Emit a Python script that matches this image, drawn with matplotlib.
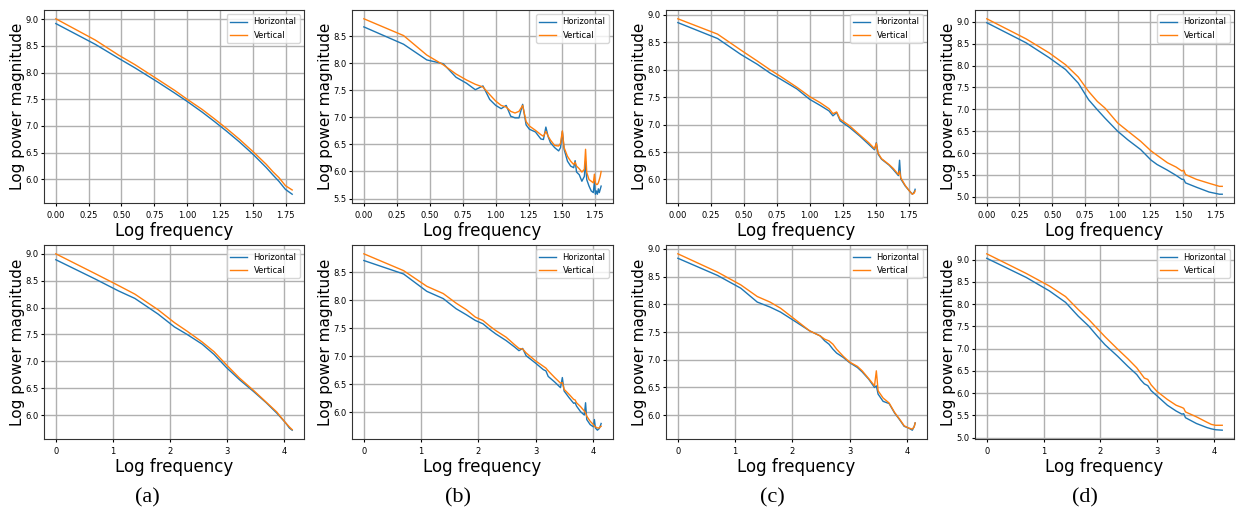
import numpy as np
import matplotlib
matplotlib.use("Agg")
import matplotlib.pyplot as plt

# frequency index (k) sampled per panel, and the log power magnitude read off the figure
# top row uses log10(k), bottom row uses ln(k)

top_a_freq = [1, 2, 3, 4, 6, 8, 10, 13, 16, 20, 25, 32, 40, 45, 50, 56, 63]
top_a_h = [8.92, 8.53, 8.27, 8.09, 7.82, 7.62, 7.46, 7.26, 7.09, 6.90, 6.70, 6.46, 6.22, 6.08, 5.96, 5.81, 5.72]
top_a_v = [9.01, 8.61, 8.33, 8.15, 7.87, 7.67, 7.50, 7.31, 7.14, 6.95, 6.75, 6.51, 6.28, 6.14, 6.03, 5.88, 5.80]

top_b_freq = [1, 2, 3, 4, 5, 6, 7, 8, 9, 10, 11, 12, 13, 14, 15, 16, 17, 18, 20, 22, 23, 24, 25, 26, 28,
              30, 31, 32, 33, 35, 37, 39, 40, 41, 43, 45, 47, 48, 49, 51, 53, 55, 56, 57, 58, 59, 60, 61, 62, 63]
top_b_h = [8.67, 8.35, 8.06, 7.99, 7.74, 7.63, 7.51, 7.58, 7.33, 7.22, 7.16, 7.22, 7.02, 6.99, 6.99, 7.24, 6.86,
           6.78, 6.73, 6.60, 6.59, 6.82, 6.64, 6.53, 6.44, 6.38, 6.44, 6.74, 6.41, 6.19, 6.10, 6.07, 6.20, 5.99,
           5.94, 5.82, 5.91, 6.19, 5.85, 5.73, 5.64, 5.61, 5.82, 5.58, 5.64, 5.58, 5.68, 5.61, 5.67, 5.73]
top_b_v = [8.82, 8.51, 8.15, 7.97, 7.80, 7.69, 7.61, 7.56, 7.42, 7.30, 7.22, 7.19, 7.11, 7.08, 7.11, 7.22, 6.92,
           6.84, 6.76, 6.68, 6.65, 6.74, 6.65, 6.58, 6.48, 6.47, 6.52, 6.75, 6.44, 6.28, 6.19, 6.13, 6.17, 6.10,
           6.05, 5.99, 6.04, 6.41, 5.98, 5.85, 5.82, 5.79, 5.95, 5.79, 5.76, 5.76, 5.79, 5.85, 5.91, 6.00]

top_c_freq = [1, 2, 3, 4, 5, 6, 8, 10, 12, 14, 15, 16, 17, 20, 24, 28, 31, 32, 33, 35, 40, 43, 47, 48, 49,
              53, 57, 60, 62, 63]
top_c_h = [8.86, 8.57, 8.28, 8.10, 7.94, 7.83, 7.65, 7.46, 7.35, 7.25, 7.16, 7.22, 7.07, 6.95, 6.79, 6.64,
           6.54, 6.67, 6.46, 6.37, 6.26, 6.18, 6.07, 6.35, 6.01, 5.88, 5.79, 5.73, 5.77, 5.82]
top_c_v = [8.93, 8.65, 8.36, 8.16, 8.00, 7.88, 7.68, 7.51, 7.40, 7.29, 7.20, 7.23, 7.10, 6.98, 6.81, 6.67,
           6.56, 6.66, 6.48, 6.38, 6.27, 6.20, 6.09, 6.15, 6.03, 5.89, 5.79, 5.73, 5.75, 5.79]

top_d_freq = [1, 2, 3, 4, 5, 6, 7, 8, 10, 12, 15, 18, 20, 24, 28, 31, 32, 33, 40, 50, 60, 63]
top_d_h = [8.98, 8.52, 8.18, 7.91, 7.60, 7.22, 6.99, 6.80, 6.50, 6.30, 6.08, 5.84, 5.74, 5.61, 5.49, 5.40,
           5.40, 5.32, 5.22, 5.11, 5.06, 5.06]
top_d_v = [9.07, 8.61, 8.29, 8.02, 7.74, 7.41, 7.18, 7.03, 6.69, 6.50, 6.27, 6.05, 5.95, 5.78, 5.68, 5.59,
           5.61, 5.51, 5.40, 5.31, 5.24, 5.24]

bot_a_freq = [1, 2, 3, 4, 6, 8, 10, 13, 16, 20, 25, 32, 40, 48, 56, 60, 63]
bot_a_h = [8.89, 8.53, 8.31, 8.17, 7.88, 7.64, 7.50, 7.32, 7.13, 6.88, 6.66, 6.44, 6.23, 6.04, 5.86, 5.76, 5.72]
bot_a_v = [9.00, 8.63, 8.41, 8.25, 7.96, 7.72, 7.56, 7.36, 7.18, 6.93, 6.69, 6.46, 6.24, 6.06, 5.86, 5.78, 5.73]

bot_b_freq = [1, 2, 3, 4, 5, 6, 7, 8, 9, 10, 12, 14, 15, 16, 17, 20, 23, 24, 25, 28, 31, 32, 33, 36, 39,
              40, 41, 44, 47, 48, 49, 52, 55, 56, 57, 59, 61, 62, 63]
bot_b_h = [8.71, 8.47, 8.16, 8.03, 7.85, 7.74, 7.64, 7.58, 7.48, 7.40, 7.28, 7.16, 7.10, 7.14, 7.01, 6.88,
           6.76, 6.74, 6.64, 6.54, 6.44, 6.62, 6.38, 6.26, 6.16, 6.17, 6.11, 6.01, 5.95, 6.17, 5.87, 5.78,
           5.74, 5.87, 5.72, 5.68, 5.71, 5.75, 5.80]
bot_b_v = [8.83, 8.53, 8.25, 8.12, 7.95, 7.83, 7.70, 7.64, 7.54, 7.46, 7.34, 7.20, 7.14, 7.13, 7.06, 6.92,
           6.82, 6.79, 6.74, 6.62, 6.52, 6.53, 6.41, 6.32, 6.23, 6.22, 6.17, 6.10, 6.02, 5.99, 5.93, 5.84,
           5.78, 5.75, 5.74, 5.72, 5.72, 5.74, 5.75]

bot_c_freq = [1, 2, 3, 4, 5, 6, 8, 10, 12, 13, 14, 15, 16, 18, 20, 23, 25, 28, 31, 32, 33, 36, 40, 44, 48,
              52, 56, 60, 62, 63]
bot_c_h = [8.83, 8.52, 8.29, 8.04, 7.95, 7.86, 7.67, 7.52, 7.43, 7.34, 7.28, 7.19, 7.12, 7.04, 6.95, 6.86,
           6.78, 6.65, 6.50, 6.53, 6.38, 6.25, 6.21, 6.04, 5.92, 5.80, 5.77, 5.73, 5.80, 5.86]
bot_c_v = [8.91, 8.58, 8.35, 8.14, 8.04, 7.93, 7.70, 7.52, 7.43, 7.37, 7.34, 7.28, 7.19, 7.06, 6.96, 6.88,
           6.80, 6.66, 6.53, 6.80, 6.44, 6.31, 6.22, 6.05, 5.93, 5.81, 5.77, 5.75, 5.79, 5.86]

bot_d_freq = [1, 2, 3, 4, 5, 6, 7, 8, 10, 12, 14, 15, 16, 17, 18, 20, 24, 28, 31, 32, 33, 40, 48, 52, 56, 63]
bot_d_h = [9.03, 8.60, 8.30, 8.04, 7.73, 7.51, 7.28, 7.09, 6.83, 6.60, 6.42, 6.30, 6.21, 6.17, 6.06, 5.94,
           5.73, 5.60, 5.53, 5.54, 5.45, 5.32, 5.23, 5.20, 5.18, 5.17]
bot_d_v = [9.13, 8.69, 8.41, 8.17, 7.88, 7.66, 7.45, 7.27, 6.99, 6.77, 6.57, 6.45, 6.34, 6.31, 6.19, 6.04,
           5.86, 5.73, 5.68, 5.66, 5.58, 5.47, 5.35, 5.30, 5.28, 5.28]

captions = ["(a)", "(b)", "(c)", "(d)"]

top_panels = [(top_a_freq, top_a_h, top_a_v), (top_b_freq, top_b_h, top_b_v),
              (top_c_freq, top_c_h, top_c_v), (top_d_freq, top_d_h, top_d_v)]
bot_panels = [(bot_a_freq, bot_a_h, bot_a_v), (bot_b_freq, bot_b_h, bot_b_v),
              (bot_c_freq, bot_c_h, bot_c_v), (bot_d_freq, bot_d_h, bot_d_v)]

W, H = 1236, 512
plt.rcParams["xtick.labelsize"] = 6
plt.rcParams["ytick.labelsize"] = 6
plt.rcParams["xtick.major.size"] = 2.5
plt.rcParams["ytick.major.size"] = 2.5
plt.rcParams["xtick.major.pad"] = 3
plt.rcParams["ytick.major.pad"] = 1.5

fig = plt.figure(figsize=(W / 100, H / 100), dpi=100)

# pixel boxes of each panel (left, right)
lefts = [44, 352, 666, 975]
rights = [304, 613, 927, 1234]
rows = [(10, 203, top_panels, np.log10), (245, 439, bot_panels, np.log)]

for top, bottom, panels, logf in rows:
    for i, (freq, h, v) in enumerate(panels):
        ax = fig.add_axes([lefts[i] / W, 1 - bottom / H, (rights[i] - lefts[i]) / W, (bottom - top) / H])
        x = logf(np.array(freq, dtype=float))
        ax.plot(x, h, color="#1f77b4", lw=1.0, label="Horizontal")
        ax.plot(x, v, color="#ff7f0e", lw=1.0, label="Vertical")
        ax.grid(True, color="#b0b0b0", lw=1.0)
        ax.set_axisbelow(True)
        ax.set_xlabel("Log frequency", fontsize=12, labelpad=2)
        ax.set_ylabel("Log power magnitude", fontsize=11, labelpad=0)
        ax.legend(loc="upper right", fontsize=6)
        for s in ax.spines.values():
            s.set_color("#333333")

cap_x = [147, 458, 772, 1085]
for cx, c in zip(cap_x, captions):
    fig.text(cx / W, 1 - 498 / H, c, ha="center", va="center", fontsize=16, family="Liberation Serif")

fig.savefig("out.png", dpi=100)
